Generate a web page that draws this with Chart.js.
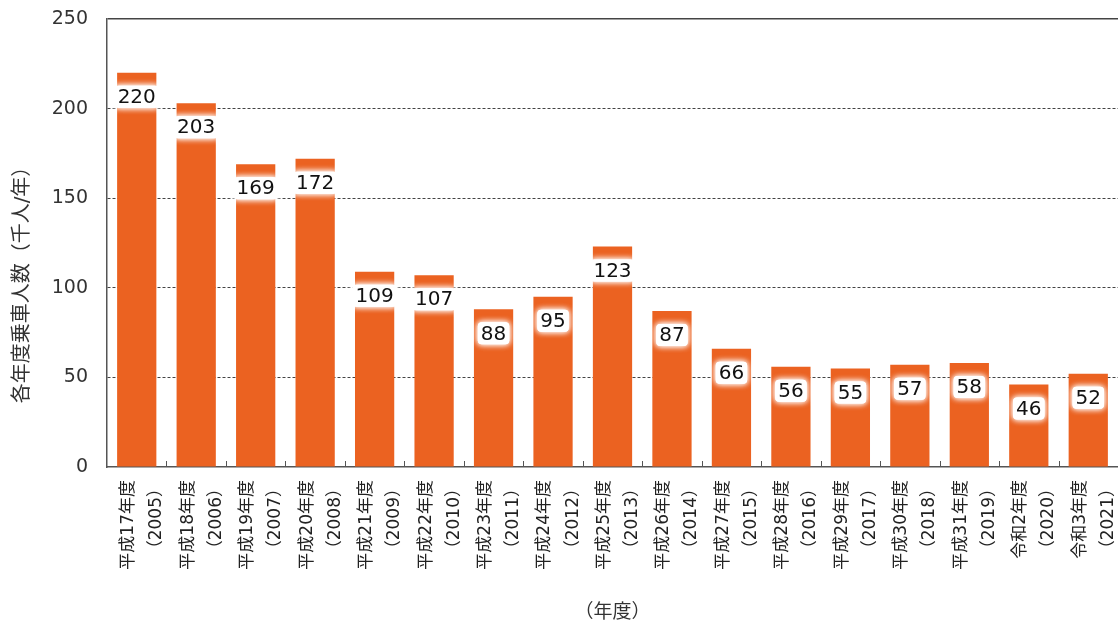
<!DOCTYPE html>
<html>
<head>
<meta charset="utf-8">
<script src="https://cdn.jsdelivr.net/npm/chart.js@4/dist/chart.umd.min.js"></script>
<style>
  html, body { margin: 0; padding: 0; background: #fff; }
  #wrap { width: 1118px; height: 623px; }
</style>
</head>
<body>
<div id="wrap"><canvas id="chart"></canvas></div>
<script>
// 年度ラベル（2行）
const nendo = ['平成17年度', '平成18年度', '平成19年度', '平成20年度', '平成21年度', '平成22年度',
  '平成23年度', '平成24年度', '平成25年度', '平成26年度', '平成27年度', '平成28年度',
  '平成29年度', '平成30年度', '平成31年度', '令和2年度', '令和3年度'];
const seireki = ['2005', '2006', '2007', '2008', '2009', '2010', '2011', '2012', '2013',
  '2014', '2015', '2016', '2017', '2018', '2019', '2020', '2021'];
// 各年度乗車人数（千人/年）
const joshaJinin = [220, 203, 169, 172, 109, 107, 88, 95, 123, 87, 66, 56, 55, 57, 58, 46, 52];
const yTicks = [0, 50, 100, 150, 200, 250];
const yTitle = '各年度乗車人数（千人/年）';

const FONT = "'DejaVu Sans', 'Noto Sans CJK JP', sans-serif";
const AXIS_COLOR = '#555';

// 棒の中の白い値ラベル、x軸の内向き目盛り、y軸タイトル
const labelPlugin = {
  id: 'valueBoxes',
  afterDatasetsDraw(chart) {
    const ctx = chart.ctx;
    const meta = chart.getDatasetMeta(0);
    ctx.save();
    ctx.font = '20px ' + FONT;
    ctx.textAlign = 'center';
    ctx.textBaseline = 'middle';
    meta.data.forEach((bar, i) => {
      const txt = String(joshaJinin[i]);
      const w = ctx.measureText(txt).width + 6;
      const h = 22;
      const cy = bar.y + 24;
      ctx.save();
      ctx.shadowColor = 'rgba(255,255,255,1)';
      ctx.shadowBlur = 6;
      ctx.fillStyle = '#fff';
      ctx.beginPath();
      ctx.roundRect(bar.x - w / 2, cy - h / 2, w, h, 4);
      ctx.fill();
      ctx.fill();
      ctx.restore();
      ctx.fillStyle = '#111';
      ctx.fillText(txt, bar.x, cy + 1);
    });

    // x軸の目盛り（カテゴリ境界、上向き）
    const x = chart.scales.x;
    const bottom = chart.chartArea.bottom;
    ctx.strokeStyle = AXIS_COLOR;
    ctx.lineWidth = 1;
    for (let i = 0; i < nendo.length - 1; i++) {
      const px = Math.round((x.getPixelForValue(i) + x.getPixelForValue(i + 1)) / 2) + 0.5;
      ctx.beginPath();
      ctx.moveTo(px, bottom);
      ctx.lineTo(px, bottom - 6);
      ctx.stroke();
    }

    // y軸タイトル（少し下寄せ）
    ctx.translate(23, 280);
    ctx.rotate(-Math.PI / 2);
    ctx.font = '20px ' + FONT;
    ctx.fillStyle = '#333';
    ctx.fillText(yTitle, 0, 0);
    ctx.restore();
  }
};

new Chart(document.getElementById('chart'), {
  type: 'bar',
  data: {
    labels: nendo.map((n, i) => [n, '（' + seireki[i] + '）']),
    datasets: [{
      data: joshaJinin,
      backgroundColor: '#EB6221',
      borderWidth: 0,
      categoryPercentage: 1,
      barPercentage: 0.66
    }]
  },
  options: {
    responsive: true,
    maintainAspectRatio: false,
    animation: false,
    layout: { padding: { top: 19, right: 0, left: 0, bottom: 0 } },
    plugins: {
      legend: { display: false },
      tooltip: { enabled: false }
    },
    scales: {
      x: {
        grid: { display: false },
        border: { display: true, color: AXIS_COLOR, width: 1.5 },
        ticks: {
          color: '#222',
          font: { family: FONT, size: 17, lineHeight: 1.65 },
          minRotation: 90,
          maxRotation: 90,
          autoSkip: false,
          padding: 5,
          labelOffset: -8
        },
        title: {
          display: true,
          text: '（年度）',
          color: '#333',
          font: { family: FONT, size: 19, lineHeight: 1 },
          padding: { top: 0, bottom: 0 }
        },
        afterFit: s => {
          s.height = 156;
          s.paddingLeft = 0;
          s.paddingRight = 0;
        }
      },
      y: {
        min: 0,
        max: 250,
        afterBuildTicks: s => { s.ticks = yTicks.map(v => ({ value: v })); },
        grid: {
          drawTicks: false,
          color: c => (c.tick && c.tick.value === 0) ? 'rgba(0,0,0,0)' : '#444',
          lineWidth: c => (c.tick && c.tick.value === 250) ? 1.5 : 1
        },
        border: {
          display: true,
          color: AXIS_COLOR,
          width: 1.5,
          dash: c => (c.tick && c.tick.value === 250) ? [] : [3, 2]
        },
        ticks: {
          color: '#333',
          font: { family: FONT, size: 19 },
          padding: 19
        },
        afterFit: s => {
          s.width = 107;
          s.paddingTop = 0;
          s.paddingBottom = 0;
        }
      }
    }
  },
  plugins: [labelPlugin]
});
</script>
</body>
</html>
